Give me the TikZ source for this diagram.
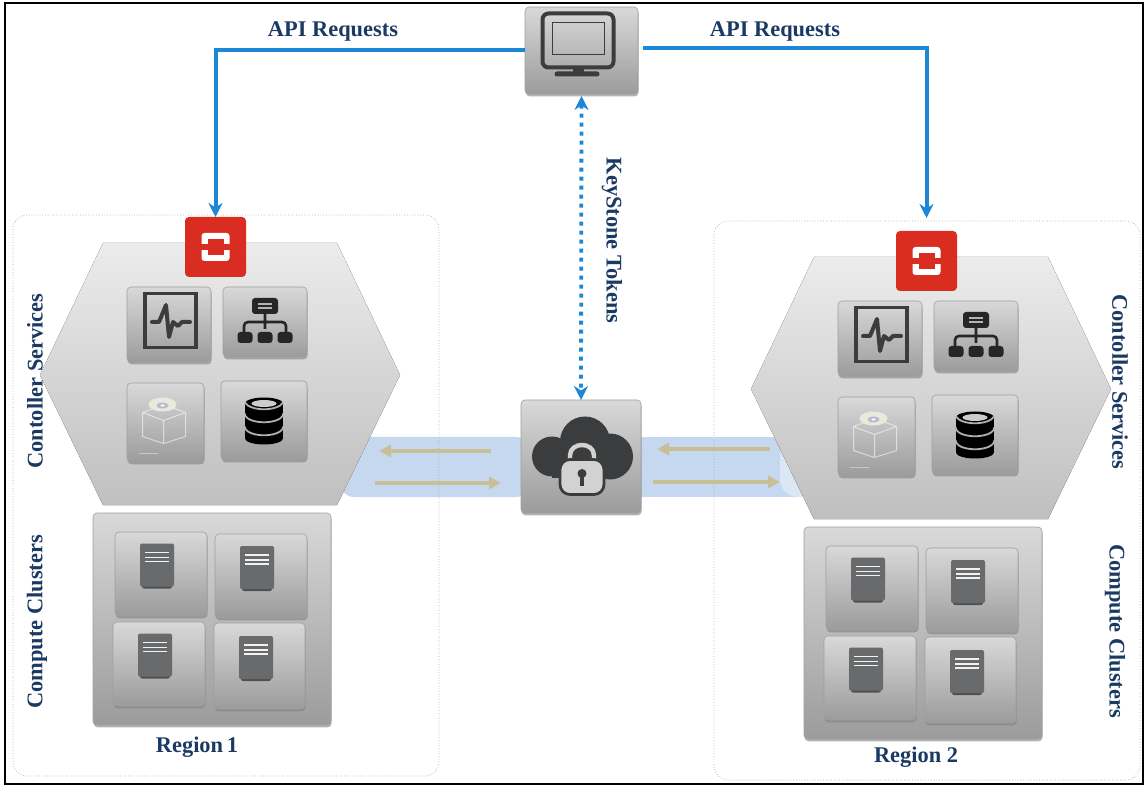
\documentclass[tikz,border=0pt]{standalone}
\usepackage{fontspec}
\setmainfont{Liberation Serif}
\usepackage{tikz}
\usetikzlibrary{arrows.meta, shadows}
\definecolor{flowblue}{HTML}{1B87D6}
\definecolor{labelnavy}{HTML}{1B3A63}
\definecolor{bandblue}{HTML}{C5D8EF}
\definecolor{flowtan}{HTML}{C9BF97}
\definecolor{redstack}{HTML}{D82D20}
\definecolor{glyphdark}{HTML}{3A3C3D}
\definecolor{glyphserver}{HTML}{696A6C}
\tikzset{
    % all sizes are given in the pixels of the picture
    tile/.style 2 args={ % grey button with a soft shadow
        rectangle, rounded corners=2pt, inner sep=0pt, outer sep=0pt,
        minimum width=#1*0.5pt, minimum height=#2*0.5pt,
        top color=gray!30, bottom color=gray!78, draw=gray!75, line width=0.3pt,
        drop shadow={shadow xshift=0.3pt, shadow yshift=-1.2pt, opacity=0.6}
    },
    redbox/.style={
        rectangle, rounded corners=2pt, inner sep=0pt, outer sep=0pt,
        minimum width=30.5pt, minimum height=30pt, fill=redstack
    },
    regionbox/.style={ % thin outline round a region
        draw=gray!70, densely dotted, line width=0.35pt, rounded corners=7pt
    },
    apiflow/.style={
        draw=flowblue, line width=2pt, ->, >={Stealth[length=7pt,width=7pt]}
    },
    tokenflow/.style={
        draw=flowblue, line width=1.9pt, <->, >={Stealth[length=7pt,width=7pt]},
        dash pattern=on 2pt off 2.5pt
    },
    bandflow/.style={
        draw=flowtan, line width=1.8pt, ->, >={Triangle[length=6pt,width=6pt]}
    },
    caption/.style={
        text=labelnavy, font=\fontsize{11.2}{14}\selectfont\bfseries, inner sep=0pt
    },
    % glyphs on the tiles
    pics/serverglyph/.style={code={
        \fill[glyphserver!75!black, rounded corners=1pt] (-15,18) rectangle (15,23);
        \fill[glyphserver, rounded corners=1pt] (-17,-22) rectangle (17,21);
        \foreach \ly in {-13,-8,-4}
            \draw[white!90!gray, line width=0.95pt] (-12,\ly) -- (12,\ly);
    }},
    pics/stackglyph/.style={code={
        \fill[white, rounded corners=1.5pt] (-14,-14) rectangle (14,14);
        \fill[redstack] (-8,-8) rectangle (8,8);
        \fill[redstack] (-16,-3) rectangle (-8,3);
        \fill[redstack] (16,-3) rectangle (8,3);
    }},
    pics/pulseglyph/.style={code={
        \draw[glyphdark, line width=1.6pt] (-24,-31) rectangle (27,23);
        \draw[glyphdark, line width=2pt, line join=round, line cap=round]
            (-17,-2.5) -- (-10,-2.5) -- (-3,-19.5) -- (0,12.5) -- (4,-2.5)
            -- (9,1.5) -- (13,-2.5) -- (21,-2.5);
    }},
    pics/treeglyph/.style={code={
        \fill[black!85, rounded corners=1.5pt] (-13,-24) rectangle (13,-8);
        \draw[gray!60, line width=0.7pt] (-7,-18) -- (7,-18) (-7,-14) -- (7,-14);
        \draw[black!85, line width=1.3pt, rounded corners=2pt]
            (0,-8) -- (0,7) (-21,10) -- (-21,0) -- (21,0) -- (21,10);
        \foreach \lx in {-20,0,20}
            \fill[black!85, rounded corners=1.5pt] (\lx-7.5,10) rectangle (\lx+7.5,21);
    }},
    pics/imageglyph/.style={code={
        \draw[white, opacity=0.55, line width=0.5pt, line join=round]
            (-23,-10) -- (-2,-18) -- (20,-10) -- (20,14) -- (-2,21) -- (-23,14) -- cycle
            (-23,-10) -- (-2,-2) -- (20,-10) (-2,-2) -- (-2,21);
        \draw[white, opacity=0.4, line width=0.6pt] (-27,31) -- (-8,31);
        \fill[yellow!25!gray!25] (-3,-18) ellipse [x radius=14, y radius=7];
        \fill[blue!20!gray!45] (-3,-17) ellipse [x radius=6, y radius=3];
        \fill[white] (-3,-17) ellipse [x radius=2, y radius=1];
    }},
    pics/dbglyph/.style={code={
        \foreach \ly in {9,-4,-17} {
            \fill[black] (0,\ly) ellipse [x radius=19, y radius=6];
            \fill[black] (-19,\ly) rectangle (19,\ly+9);
            \fill[black] (0,\ly+9) ellipse [x radius=19, y radius=6];
            \draw[gray!62, line width=0.9pt] (-19,\ly-1) .. controls (-14,\ly+8) and (14,\ly+8) .. (19,\ly-1);
        }
        \fill[gray!40] (0,-17) ellipse [x radius=12.5, y radius=3.5];
    }},
    pics/monitorglyph/.style={code={
        \draw[glyphdark, line width=2pt, rounded corners=3pt] (-39,-37) rectangle (32,17);
        \draw[glyphdark, line width=0.8pt] (-29,-28) rectangle (23,4);
        \fill[glyphdark] (-9,17) rectangle (2,23);
        \fill[glyphdark, rounded corners=1.2pt] (-27,21) rectangle (18,26);
    }},
    pics/cloudglyph/.style={code={
        \fill[glyphdark] (-29,0) circle [radius=20];
        \fill[glyphdark] (29,0) circle [radius=23];
        \fill[glyphdark] (4,-15) circle [radius=25];
        \fill[glyphdark] (-29,-15) rectangle (29,22);
        \draw[gray!35, line width=2.2pt] (-11,5) -- (-11,-1) .. controls (-11,-15) and (13,-15) .. (13,-1) -- (13,5);
        \fill[gray!35, draw=glyphdark, line width=1.4pt, rounded corners=5pt] (-21,3) rectangle (23,38);
        \fill[glyphdark] (1,17) circle [radius=4.5];
        \draw[glyphdark, line width=1.6pt] (1,18) -- (1,29);
    }},
    % one region: hexagon, red box, service tiles and compute cluster
    pics/regionblock/.style={code={
        \fill[top color=gray!15, bottom color=gray!50]
            (40,375) -- (103,243) -- (337,243) -- (400,375) -- (337,505) -- (103,505) -- cycle;
        \node[redbox]       (-red)    at (215.5,247)  {};
        \pic at (215.5,247) {stackglyph};
        \node[tile={84}{75}] (-pulse) at (169,324.5)  {};
        \node[tile={84}{70}] (-tree)  at (265,322)    {};
        \node[tile={77}{79}] (-image) at (165.5,422.5) {};
        \node[tile={86}{79}] (-db)    at (264,420.5)  {};
        \pic at (-pulse) {pulseglyph};
        \pic at (-tree)  {treeglyph};
        \pic at (-image) {imageglyph};
        \pic at (-db)    {dbglyph};
        % compute cluster
        \node[tile={238}{212}] (-cluster) at (212,619) {};
        \node[tile={92}{84}] (-srva) at (161,574)   {};
        \node[tile={92}{84}] (-srvb) at (261,576)   {};
        \node[tile={92}{84}] (-srvc) at (159,664)   {};
        \node[tile={91}{86}] (-srvd) at (259.5,666) {};
        \pic at (157,565.5) {serverglyph};
        \pic at (257,568)   {serverglyph};
        \pic at (155,655.5) {serverglyph};
        \pic at (256,658)   {serverglyph};
    }}
}
\begin{document}
\begin{tikzpicture}[x=0.5pt, y=-0.5pt]
    \useasboundingbox (0,0) rectangle (1147,786);
    % rahmen
    \draw[black, line width=1.1pt] (5,3) rectangle (1143,784);
    % baender hinter den regionen
    \fill[bandblue, rounded corners=7pt] (340,437) rectangle (530,497);
    \fill[bandblue] (630,437) rectangle (815,497);
    \fill[white, opacity=0.4, rounded corners=9pt] (780,437) rectangle (830,497);
    \draw[regionbox] (13,215) rectangle (439,776);
    \draw[regionbox] (714,221) rectangle (1140,780);

    % regionen
    \pic (rega) at (0,0)   {regionblock};
    \pic (regb) at (711,14) {regionblock};

    % mitte
    \node[tile={113}{87}]  (monitor) at (581.5,50.5) {};
    \node[tile={120}{113}] (vault)   at (581,456.5)  {};
    \pic at (monitor) {monitorglyph};
    \pic at (vault)   {cloudglyph};

    % freie enden der pfeile im band
    \coordinate (lefttopin)   at (491,451);
    \coordinate (lefttopout)  at (379,451);
    \coordinate (leftlowin)   at (375,483);
    \coordinate (leftlowout)  at (501,483);
    \coordinate (righttopin)  at (770,449);
    \coordinate (righttopout) at (657,449);
    \coordinate (rightlowin)  at (653,482);
    \coordinate (rightlowout) at (780,482);

    \draw[bandflow] (lefttopin)  -- (lefttopout);
    \draw[bandflow] (leftlowin)  -- (leftlowout);
    \draw[bandflow] (righttopin) -- (righttopout);
    \draw[bandflow] (rightlowin) -- (rightlowout);

    \draw[apiflow] (monitor.west) -| (rega-red.north);
    \draw[apiflow, shorten <=2.5pt, shorten >=6.5pt]
        ([yshift=1.25pt]monitor.east) -| (regb-red.north);
    \draw[tokenflow, shorten <=1pt] (monitor.south) -- (vault.north);

    % beschriftung
    \node[caption] (apileft)  at (333,31) {API Requests};
    \node[caption] (apiright) at (775,31) {API Requests};
    \node[caption, rotate=-90] (tokens) at (612,240.5) {KeyStone Tokens};
    \node[caption, rotate=90]  (ctrla)  at (35,381)    {Contoller Services};
    \node[caption, rotate=90]  (compa)  at (37,622)    {Compute Clusters};
    \node[caption, rotate=-90] (ctrlb)  at (1120,382)  {Contoller Services};
    \node[caption, rotate=-90] (compb)  at (1115,631)  {Compute Clusters};
    \node[caption] (namea) at (197,747) {Region\,\oldstylenums{1}};
    \node[caption] (nameb) at (916,757) {Region \oldstylenums{2}};
\end{tikzpicture}
\end{document}
